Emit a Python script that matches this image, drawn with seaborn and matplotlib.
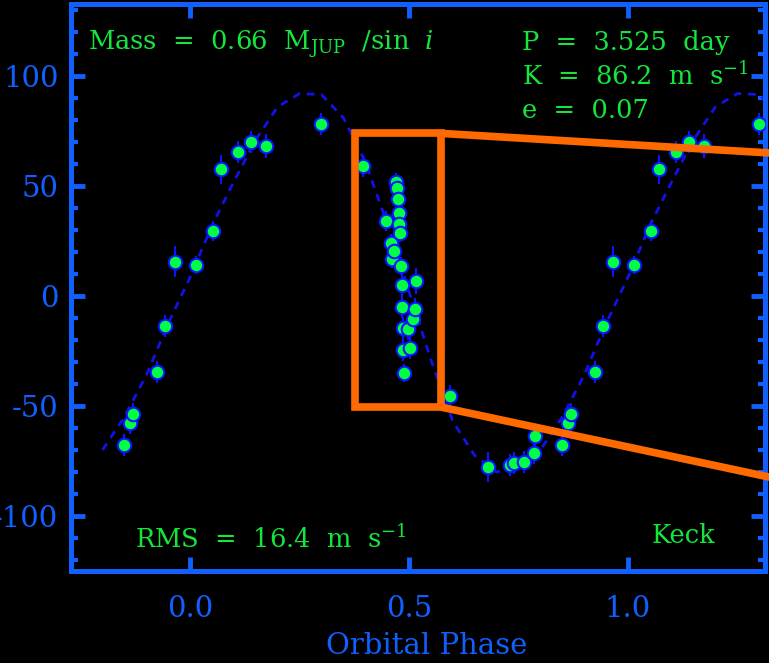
import matplotlib
matplotlib.use("Agg")
import matplotlib.pyplot as plt
from matplotlib.patches import Rectangle
from matplotlib.ticker import MultipleLocator
import pandas as pd
import seaborn as sns

# radial velocities, one orbital cycle (phase, m/s, error)
phase = [0.014, 0.052, 0.071, 0.110, 0.139, 0.173, 0.300, 0.395,
         0.447, 0.459, 0.461, 0.466, 0.470, 0.473, 0.475, 0.477, 0.477,
         0.480, 0.482, 0.484, 0.484, 0.486, 0.486, 0.489, 0.498, 0.502,
         0.509, 0.514, 0.516, 0.594, 0.680, 0.731, 0.740, 0.763, 0.786,
         0.788, 0.849, 0.863, 0.870, 0.925, 0.943, 0.966]
velocity = [14.0, 29.5, 57.5, 65.5, 69.8, 68.0, 78.0, 59.0,
            34.0, 24.0, 16.8, 20.5, 51.8, 49.0, 44.0, 37.8, 32.7,
            28.6, 13.6, 5.0, -5.0, -14.5, -24.5, -35.0, -15.0, -23.6,
            -10.5, -5.9, 6.8, -45.5, -77.7, -76.8, -76.0, -75.5, -71.4,
            -63.6, -67.7, -57.7, -53.6, -34.5, -13.6, 15.5]
vel_err = [4, 4.5, 6.5, 5, 5, 5.5, 5, 5,
           4.5, 4, 4, 4, 4, 4, 4, 4, 4,
           4, 4, 5, 5, 5, 5, 4, 5, 5,
           5, 5, 6, 5, 7, 5, 5, 5, 5,
           5, 5, 5, 5, 5, 5, 7]

# fitted orbit (dashed curve), one cycle
model_phase = [0.00, 0.05, 0.10, 0.15, 0.20, 0.25, 0.30, 0.35, 0.40, 0.45,
               0.50, 0.55, 0.60, 0.65, 0.70, 0.75, 0.80, 0.85, 0.90, 0.95]
model_vel = [8.5, 32, 52, 71, 86, 92, 91.5, 81, 61, 33,
             2, -29, -57, -72.5, -80, -77.5, -70, -55, -36, -12.5]

x_ticks = [0.0, 0.5, 1.0]
x_ticklabels = ["0.0", "0.5", "1.0"]

# colours
BG = "black"
AXIS_BLUE = "#1060ff"
DOT_BLUE = "#0a14ff"
CURVE_BLUE = "#1212e6"
GREEN = "#00ff44"
TEXT_GREEN = "#14e63c"
ORANGE = "#ff6a00"

# phase-fold: show points/curve from -0.2 up to the right edge
pts = pd.DataFrame({"phase": phase, "vel": velocity, "err": vel_err})
pts = pd.concat([pts.assign(phase=pts["phase"] + k) for k in (-1, 0, 1)])
pts = pts[(pts["phase"] >= -0.2) & (pts["phase"] <= 1.32)]

model = pd.DataFrame({"phase": model_phase, "vel": model_vel})
model = pd.concat([model.assign(phase=model["phase"] + k) for k in (-1, 0, 1, 2)])
model = model[(model["phase"] >= -0.2) & (model["phase"] <= 1.4)].sort_values("phase")

sns.set_style("ticks", rc={"axes.facecolor": BG, "figure.facecolor": BG,
                           "axes.edgecolor": AXIS_BLUE, "axes.grid": False})
plt.rcParams["font.family"] = ["DejaVu Serif"]
plt.rcParams["mathtext.fontset"] = "dejavuserif"
plt.rcParams["axes.unicode_minus"] = False

fig = plt.figure(figsize=(7.69, 6.63), dpi=100)
ax = fig.add_axes([71 / 769, 92 / 663, 694 / 769, 567 / 663])

sns.lineplot(data=model, x="phase", y="vel", ax=ax, color=CURVE_BLUE,
             linewidth=2.0, linestyle=(0, (2.8, 2.4)), estimator=None, sort=True)

ax.vlines(pts["phase"], pts["vel"] - pts["err"], pts["vel"] + pts["err"],
          color=DOT_BLUE, linewidth=1.5, zorder=3)
sns.scatterplot(data=pts, x="phase", y="vel", ax=ax, s=95, color=GREEN,
                edgecolor=DOT_BLUE, linewidth=1.5, zorder=4)

# zoom box + connector lines (run off the right of the frame)
ax.add_patch(Rectangle((0.377, -50.5), 0.573 - 0.377, 73.9 + 50.5, fill=False,
                       edgecolor=ORANGE, linewidth=5.5, zorder=5, clip_on=False))
ax.plot([0.573, 1.40], [73.9, 64.1], color=ORANGE, linewidth=5.5,
        solid_capstyle="butt", zorder=5, clip_on=False)
ax.plot([0.573, 1.40], [-50.5, -85.6], color=ORANGE, linewidth=5.5,
        solid_capstyle="butt", zorder=5, clip_on=False)

ax.set_xlim(-0.272, 1.313)
ax.set_ylim(-125, 132.7)
ax.set_xticks(x_ticks)
ax.set_xticklabels(x_ticklabels)
ax.yaxis.set_major_locator(MultipleLocator(50))
ax.yaxis.set_minor_locator(MultipleLocator(10))

for side in ["left", "right", "top", "bottom"]:
    ax.spines[side].set_visible(True)
    ax.spines[side].set_linewidth(3.6)
    ax.spines[side].set_color(AXIS_BLUE)

ax.tick_params(which="both", direction="in", top=True, right=True,
               color=AXIS_BLUE, labelcolor=AXIS_BLUE)
ax.tick_params(which="major", length=10, width=3.5, labelsize=21)
ax.tick_params(which="minor", length=5, width=3)
ax.tick_params(axis="x", pad=17)
ax.tick_params(axis="y", pad=9)

ax.set_ylabel("")
ax.set_xlabel("Orbital Phase", fontsize=21, color=AXIS_BLUE)
ax.xaxis.set_label_coords(0.513, -0.107)

txt = dict(transform=ax.transAxes, color=TEXT_GREEN, fontsize=18.5, va="baseline")
ax.text(0.0245, 0.919, r"Mass  =  0.66  $\mathrm{M_{JUP}}$  /sin  $i$", **txt)
ax.text(0.650, 0.919, "P  =  3.525  day", **txt)
ax.text(0.650, 0.857, r"K  =  86.2  m  s$^{-1}$", **txt)
ax.text(0.650, 0.799, "e  =  0.07", **txt)
ax.text(0.092, 0.0406, r"RMS  =  16.4  m  s$^{-1}$", **txt)
ax.text(0.837, 0.049, "Keck", **txt)

fig.savefig("out.png", dpi=100, facecolor=BG)
